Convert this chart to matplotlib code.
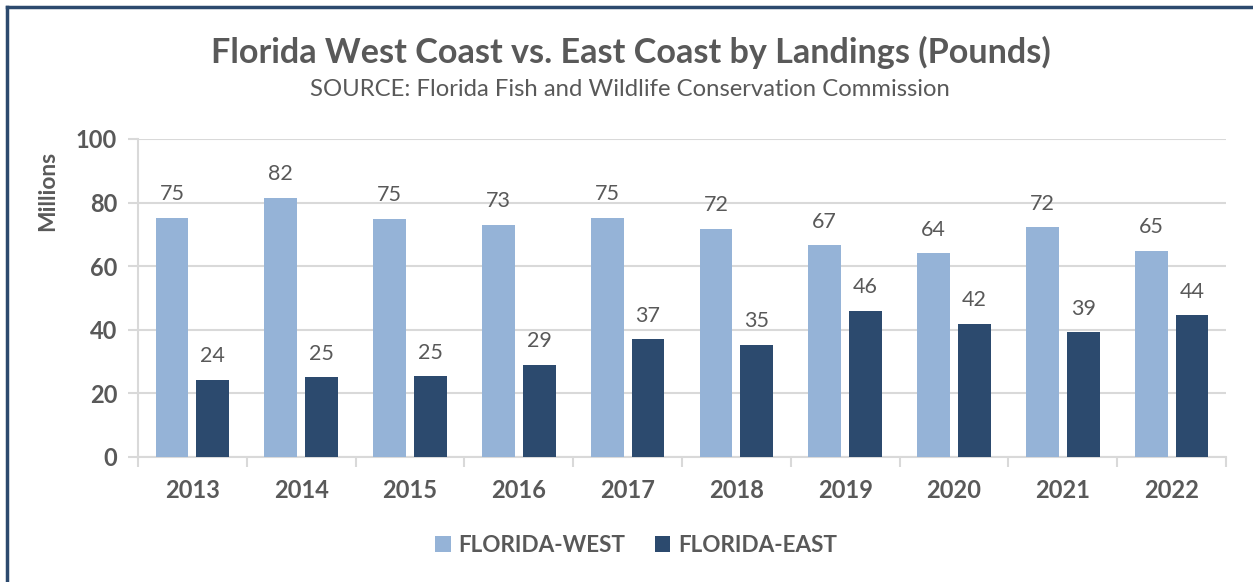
import matplotlib
matplotlib.use("Agg")
import matplotlib.pyplot as plt
from matplotlib.patches import Patch
from matplotlib.lines import Line2D
import numpy as np

years = ["2013", "2014", "2015", "2016", "2017", "2018", "2019", "2020", "2021", "2022"]
west = [75.3, 81.6, 75.0, 73.0, 75.2, 71.7, 66.6, 64.0, 72.2, 64.9]
east = [24.3, 25.1, 25.4, 29.0, 37.0, 35.3, 46.0, 41.9, 39.2, 44.5]
yticks = [0, 20, 40, 60, 80, 100]

C_WEST = "#95B3D7"
C_EAST = "#2C4A6E"
TXT = "#595959"
GRID = "#D9D9D9"
FONT = "Lato"

W, H = 1253, 582
fig = plt.figure(figsize=(W / 100, H / 100), dpi=100)
fig.patch.set_facecolor("white")

ax = fig.add_axes([138 / W, 1 - 457 / H, (1226 - 138) / W, (457 - 139) / H])

x = np.arange(len(years))
bw = 0.30
gap = 0.075
ax.bar(x - (bw + gap) / 2, west, bw, color=C_WEST, zorder=3)
ax.bar(x + (bw + gap) / 2, east, bw, color=C_EAST, zorder=3)

for xi, v in zip(x, west):
    ax.text(xi - (bw + gap) / 2, v + 4.3, f"{v:.0f}", ha="center", va="bottom",
            fontsize=15.5, color=TXT, family=FONT)
for xi, v in zip(x, east):
    ax.text(xi + (bw + gap) / 2, v + 4.3, f"{v:.0f}", ha="center", va="bottom",
            fontsize=15.5, color=TXT, family=FONT)

ax.set_xlim(-0.5, len(years) - 0.5)
ax.set_ylim(0, 100)
ax.set_yticks(yticks)
ax.set_yticklabels([str(t) for t in yticks], fontsize=17, fontweight="bold", color=TXT, family=FONT)
ax.set_xticks(x)
ax.set_xticklabels(years, fontsize=17, fontweight="bold", color=TXT, family=FONT)
ax.set_xticks(np.arange(-0.5, len(years)), minor=True)
ax.tick_params(axis="x", which="major", length=0, pad=16)
ax.tick_params(axis="x", which="minor", length=7, color=GRID, width=1.5)
ax.tick_params(axis="y", which="major", length=7, color=GRID, width=1.5, pad=8)

ax.grid(axis="y", color=GRID, linewidth=1.5, zorder=0)
for s in ["top", "right"]:
    ax.spines[s].set_visible(False)
for s in ["left", "bottom"]:
    ax.spines[s].set_color(GRID)
    ax.spines[s].set_linewidth(1.5)

fig.text(48 / W, 1 - 191 / H, "Millions", rotation=90, ha="center", va="center",
         fontsize=16.4, fontweight="bold", color=TXT, family=FONT)

fig.text(630.5 / W, 1 - 52 / H, "Florida West Coast vs. East Coast by Landings (Pounds)",
         ha="center", va="center", fontsize=24.6, fontweight="bold", color=TXT, family=FONT)
fig.text(630 / W, 1 - 89 / H, "SOURCE: Florida Fish and Wildlife Conservation Commission",
         ha="center", va="center", fontsize=17.2, color=TXT, family=FONT)

handles = [Patch(facecolor=C_WEST, label="FLORIDA-WEST"), Patch(facecolor=C_EAST, label="FLORIDA-EAST")]
leg = fig.legend(handles=handles, loc="center", bbox_to_anchor=(636 / W, 1 - 545 / H), ncol=2,
                 frameon=False, handlelength=0.7, handleheight=0.7, handletextpad=0.35,
                 columnspacing=1.3, prop={"family": FONT, "weight": "bold", "size": 16.2})
for t in leg.get_texts():
    t.set_color(TXT)

fig.add_artist(Line2D([7 / W, 7 / W], [0, 1 - 7 / H], transform=fig.transFigure, color="#2C4A6E", linewidth=2.5))
fig.add_artist(Line2D([7 / W, 1], [1 - 7 / H, 1 - 7 / H], transform=fig.transFigure, color="#2C4A6E", linewidth=2.5))

fig.savefig("out.png", dpi=100)
